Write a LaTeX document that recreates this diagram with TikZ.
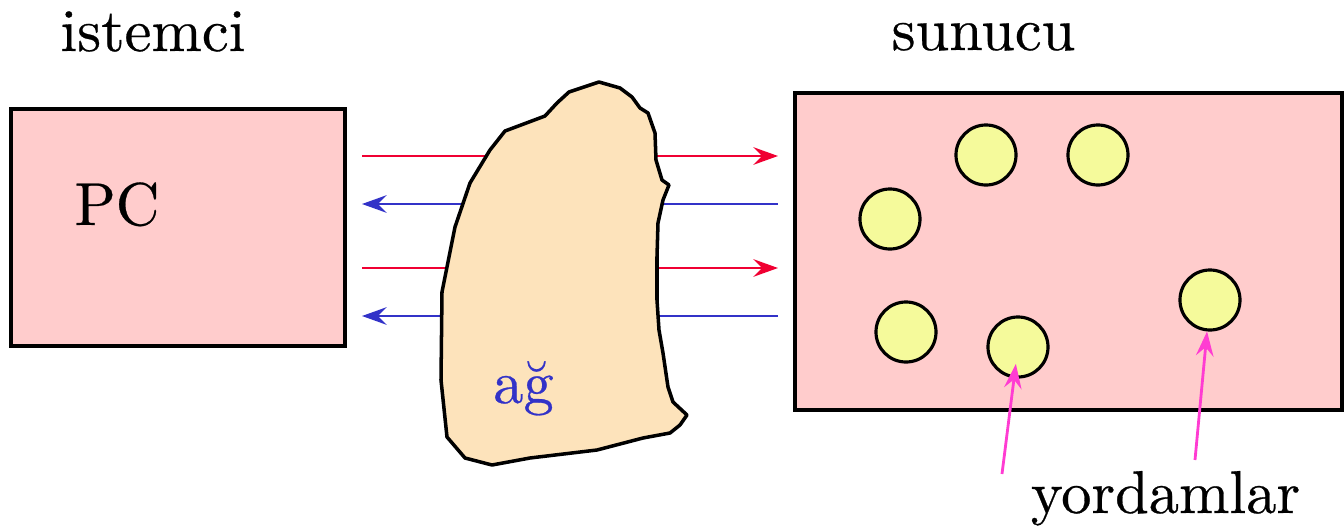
\documentclass[tikz,border=0pt]{standalone}
\usepackage{fontspec}
\newfontfamily\etiketfont{lmroman10-regular.otf}[FakeBold=0.45]
\usetikzlibrary{arrows.meta}

\definecolor{kutupembe}{RGB}{255,204,204}
\definecolor{agten}{RGB}{253,227,187}
\definecolor{yordamsari}{RGB}{245,250,155}
\definecolor{gidiskirmizi}{RGB}{240,0,50}
\definecolor{donusmavi}{RGB}{50,50,200}
\definecolor{isaretpembe}{RGB}{255,60,210}

\tikzset{
  kutu/.style={draw,line width=1pt,fill=kutupembe,inner sep=0pt},
  yordam/.style={circle,draw,line width=0.9pt,fill=yordamsari,minimum size=0.6cm,inner sep=0pt},
  yazi/.style={font=\etiketfont\fontsize{17.2}{20}\selectfont,anchor=base,inner sep=0pt},
  ok/.style={line width=0.75pt,-{Stealth[length=7pt,width=5pt,inset=2.5pt]}},
  isaret/.style={line width=0.8pt,isaretpembe,-{Stealth[length=7pt,width=5pt,inset=2.5pt]}},
}

\begin{document}
\begin{tikzpicture}[x=0.01cm,y=-0.01cm]
\useasboundingbox (0,0) rectangle (1344,530);

% istemci ve sunucu kutulari
\node[kutu,minimum width=3.34cm,minimum height=2.37cm] (pc) at (178,227.5) {};
\node[kutu,minimum width=5.47cm,minimum height=3.17cm] (sunucu) at (1068.5,251.5) {};
\node[yazi] (istemciyazi) at (153,51) {istemci};
\node[yazi] (sunucuyazi) at (983.5,50) {sunucu};
\node[yazi] (pcyazi) at (117,225) {PC};

% istek ve yanit oklari
\foreach \y [count=\i] in {156,204,268,316}{
  \coordinate (sol\i) at (362,\y);
  \coordinate (sag\i) at (778,\y);
}
\draw[ok,gidiskirmizi] (sol1) -- (sag1);
\draw[ok,donusmavi] (sag2) -- (sol2);
\draw[ok,gidiskirmizi] (sol3) -- (sag3);
\draw[ok,donusmavi] (sag4) -- (sol4);

% ag
\draw[line width=1pt,fill=agten,line join=round]
  (599,82) -- (569,92) -- (557,103) -- (545,116) -- (505,131) -- (490,150)
  -- (470,183) -- (455,227) -- (442,292) -- (441,380) -- (447,437) -- (465,458)
  -- (492,465) -- (530,458) -- (597,450) -- (643,438) -- (670,433) -- (680,425)
  -- (687,415) -- (673,402) -- (668,387) -- (663,353) -- (659,330) -- (657,300)
  -- (657,257) -- (658,223) -- (663,200) -- (669,185) -- (662,180) -- (656,160)
  -- (655,133) -- (648,113) -- (640,108) -- (632,97) -- (620,88) -- cycle;
\node[yazi,donusmavi] (agyazi) at (523.5,403) {ağ};

% yordamlar
\node[yordam] (y1) at (986,155) {};
\node[yordam] (y2) at (1098,155) {};
\node[yordam] (y3) at (890,219) {};
\node[yordam] (y4) at (906,332) {};
\node[yordam] (y5) at (1018,347) {};
\node[yordam] (y6) at (1210,300) {};

\node[yazi] (yordamyazi) at (1165.5,513) {yordamlar};
\coordinate (uc1) at (1002,474);
\coordinate (uc2) at (1195,460);
\draw[isaret,shorten >=0.17cm] (uc1) -- (y5.center);
\draw[isaret] (uc2) -- (y6);
\end{tikzpicture}
\end{document}
